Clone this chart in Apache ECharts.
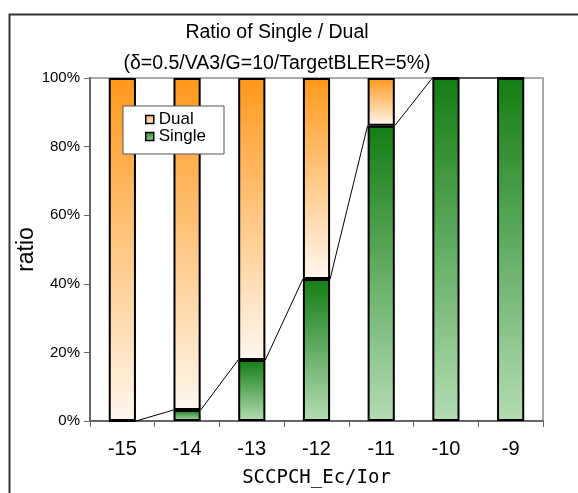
<!DOCTYPE html>
<html>
<head>
<meta charset="utf-8">
<script src="https://cdn.jsdelivr.net/npm/echarts@6/dist/echarts.min.js"></script>
<style>html,body{margin:0;padding:0;background:#fff}#c{width:578px;height:493px}</style>
</head>
<body>
<div id="c"></div>
<script>
const categories = ['-15', '-14', '-13', '-12', '-11', '-10', '-9'];
const singleValues = [0, 3.2, 17.8, 41.4, 86.1, 100, 100];
const dualValues = [100, 96.8, 82.2, 58.6, 13.9, 0, 0];
const yTicks = [0, 20, 40, 60, 80, 100];
const titleText = 'Ratio of Single / Dual';
const subtitleText = '(δ=0.5/VA3/G=10/TargetBLER=5%)';

const BAR_FRAC = 0.42;
const FONT = '"Liberation Sans", Arial, sans-serif';

const chart = echarts.init(document.getElementById('c'), null, {renderer: 'canvas'});

const seriesLineData = [];
for (let i = 0; i < singleValues.length - 1; i++) {
  seriesLineData.push([i, singleValues[i], singleValues[i + 1]]);
}

function grad(c0, c1) {
  return new echarts.graphic.LinearGradient(0, 0, 0, 1, [
    {offset: 0, color: c0},
    {offset: 1, color: c1}
  ]);
}
const greenGrad = grad('#137d13', '#b4ddb4');
const orangeGrad = grad('#ff981a', '#fff7ef');

chart.setOption({
  animation: false,
  backgroundColor: '#fff',
  graphic: [{
    type: 'rect', left: 7, top: 12, z: 100,
    shape: {x: 0, y: 0, width: 700, height: 700},
    style: {fill: 'none', stroke: '#333', lineWidth: 2}
  }],
  title: [
    {text: titleText, left: 272, top: 18, textAlign: 'center',
     textStyle: {fontFamily: FONT, fontSize: 19.5, fontWeight: 'normal', color: '#000'}},
    {text: subtitleText, left: 272, top: 49, textAlign: 'center',
     textStyle: {fontFamily: FONT, fontSize: 19.5, fontWeight: 'normal', color: '#000'}}
  ],
  legend: {
    data: [
      {name: 'Dual', itemStyle: {color: grad('#ffb878', '#ffe8d4'), borderColor: '#000', borderWidth: 1.5}},
      {name: 'Single', itemStyle: {color: grad('#2a8a2a', '#9fd09f'), borderColor: '#000', borderWidth: 1.5}}
    ],
    orient: 'vertical',
    left: 123, top: 106,
    padding: [5, 18, 9, 22],
    itemGap: 0,
    itemWidth: 8, itemHeight: 8,
    icon: 'rect',
    backgroundColor: '#fff',
    borderColor: '#555', borderWidth: 1,
    textStyle: {fontFamily: FONT, fontSize: 17, color: '#000', lineHeight: 16}
  },
  grid: {
    left: 90, right: 35, top: 78, bottom: 67,
    show: true, borderColor: '#aaa', borderWidth: 2, backgroundColor: 'transparent'
  },
  xAxis: {
    type: 'category',
    data: categories,
    boundaryGap: true,
    name: 'SCCPCH_Ec/Ior',
    nameLocation: 'middle',
    nameGap: 48,
    nameMoveOverlap: false,
    nameTextStyle: {fontFamily: '"DejaVu Sans Mono", monospace', fontSize: 19, color: '#000'},
    axisLine: {lineStyle: {color: '#666', width: 2}},
    axisTick: {show: true, length: 6, lineStyle: {color: '#666', width: 1}},
    axisLabel: {fontFamily: FONT, fontSize: 20, color: '#000', margin: 18}
  },
  yAxis: {
    type: 'value',
    min: 0, max: 100, interval: 20,
    name: 'ratio',
    nameLocation: 'middle',
    nameGap: 52,
    nameMoveOverlap: false,
    nameTextStyle: {fontFamily: FONT, fontSize: 23, color: '#000'},
    axisLine: {show: true, lineStyle: {color: '#666', width: 2}},
    axisTick: {show: true, length: 6, lineStyle: {color: '#666', width: 1}},
    splitLine: {show: false},
    axisLabel: {
      fontFamily: FONT, fontSize: 15, color: '#000', margin: 10,
      formatter: v => (yTicks.indexOf(v) >= 0 ? v + '%' : '')
    }
  },
  series: [
    {
      name: 'Single', type: 'bar', stack: 'total', barWidth: (BAR_FRAC * 100) + '%',
      data: singleValues,
      itemStyle: {color: greenGrad, borderColor: '#000', borderWidth: 2},
      z: 3
    },
    {
      name: 'Dual', type: 'bar', stack: 'total', barWidth: (BAR_FRAC * 100) + '%',
      data: dualValues,
      itemStyle: {color: orangeGrad, borderColor: '#000', borderWidth: 2},
      z: 3
    },
    {
      name: 'seriesLines', type: 'custom',
      data: seriesLineData,
      z: 2,
      silent: true,
      renderItem: function (params, api) {
        const i = api.value(0);
        const v0 = api.value(1);
        const v1 = api.value(2);
        const bw = api.size([1, 0])[0] * BAR_FRAC;
        const p0 = api.coord([i, v0]);
        const p1 = api.coord([i + 1, v1]);
        return {
          type: 'line',
          shape: {x1: p0[0] + bw / 2, y1: p0[1], x2: p1[0] - bw / 2, y2: p1[1]},
          style: {stroke: '#000', lineWidth: 1}
        };
      }
    }
  ]
});
</script>
</body>
</html>
